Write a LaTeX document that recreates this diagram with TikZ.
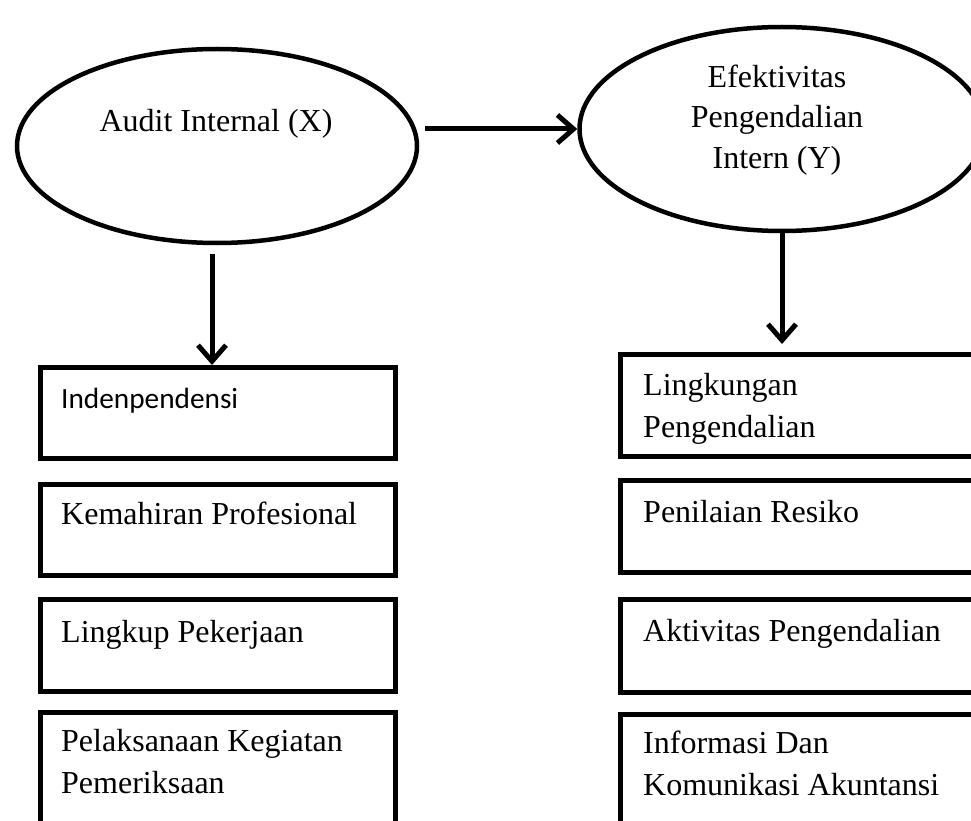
\documentclass[tikz,border=0pt]{standalone}
\usepackage{fontspec}
\setmainfont{Liberation Serif}
\newfontfamily\calibri{Carlito}
\usetikzlibrary{shapes.geometric,arrows.meta}

\tikzset{
  oval/.style={ellipse, draw, line width=4.5pt, inner sep=0pt},
  kotak/.style={rectangle, draw, line width=5pt, inner sep=0pt},
  teks/.style={inner sep=0pt, align=left, anchor=base west},
  panah/.style={line width=5pt, -{Straight Barb[length=16pt,width=28pt]}}
}

\begin{document}
\begin{tikzpicture}[x=1pt,y=-1pt,font=\fontsize{32}{42}\selectfont]
\useasboundingbox (0,0) rectangle (971,821);
\clip (0,0) rectangle (971,821);
% variabel X dan Y
\node[oval, minimum width=400pt, minimum height=194pt] (ai) at (217,146) {};
\node[oval, minimum width=405pt, minimum height=204pt] (epi) at (782,129) {};
\node[inner sep=0pt, anchor=base] (ai-t) at (216,132) {Audit Internal (X)};
\node[inner sep=0pt, anchor=base, align=center, font=\fontsize{32}{40.5}\selectfont] (epi-t) at (777,168) {Efektivitas\\Pengendalian\\Intern (Y)};

% indikator X
\node[kotak, minimum width=355pt, minimum height=91pt] (ind) at (218,413) {};
\node[kotak, minimum width=355pt, minimum height=91pt] (kp) at (218,530) {};
\node[kotak, minimum width=355pt, minimum height=92pt] (lpk) at (218,645.5) {};
\node[kotak, minimum width=355pt, minimum height=140pt] (pkp) at (218,782.5) {};
\node[teks, font=\calibri\fontsize{29.3}{40}\selectfont] (ind-t) at (61,408) {Indenpendensi};
\node[teks] (kp-t) at (61,524) {Kemahiran Profesional};
\node[teks] (lpk-t) at (61,642) {Lingkup Pekerjaan};
\node[teks] (pkp-t) at (61,793) {Pelaksanaan Kegiatan\\Pemeriksaan};

% indikator Y
\node[kotak, minimum width=369.5pt, minimum height=102pt] (lp) at (805.25,405.5) {};
\node[kotak, minimum width=369.5pt, minimum height=92pt] (pr) at (805.25,526.5) {};
\node[kotak, minimum width=369.5pt, minimum height=93pt] (ap) at (805.25,646) {};
\node[kotak, minimum width=369.5pt, minimum height=140pt] (ika) at (805.25,784.5) {};
\node[teks] (lp-t) at (643,437) {Lingkungan\\Pengendalian};
\node[teks] (pr-t) at (643,522) {Penilaian Resiko};
\node[teks] (ap-t) at (643,641) {Aktivitas Pengendalian};
\node[teks] (ika-t) at (643,795) {Informasi Dan\\Komunikasi Akuntansi};

% panah
\draw[panah, shorten <=6pt] (epi.west -| ai.east) -- (epi.west);
\draw[panah, shorten <=9pt] ([xshift=-5pt]ai.south) -- ([xshift=-6pt]ind.north);
\draw[panah, shorten >=8pt] (epi.south) -- (epi.south |- lp.north);
\end{tikzpicture}
\end{document}
